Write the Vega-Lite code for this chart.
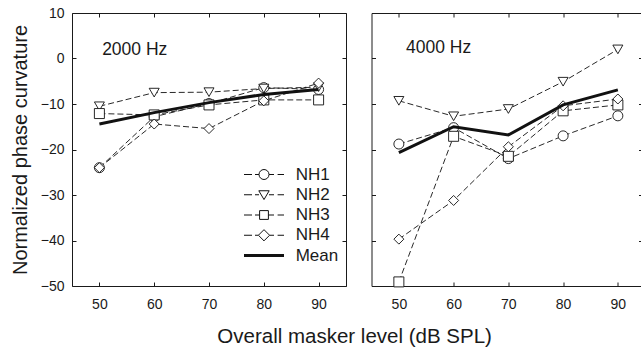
{
  "$schema": "https://vega.github.io/schema/vega-lite/v6.json",
  "background": "white",
  "padding": {"left": 9, "top": 5, "right": 0, "bottom": 0},
  "config": {
    "font": "Liberation Sans",
    "view": {"stroke": "#1a1a1a", "strokeWidth": 1},
    "axis": {
      "domain": false, "grid": false, "tickSize": -4, "tickColor": "#1a1a1a", "tickWidth": 1,
      "labelFont": "Liberation Sans", "labelFontSize": 14, "labelColor": "#1a1a1a",
      "titleFont": "Liberation Sans", "titleFontSize": 20, "titleFontWeight": "normal", "titleColor": "#1a1a1a"
    }
  },
  "datasets": {
    "pc": [
      {"freq": 2000, "series": "NH1", "level": 50, "value": -24.0},
      {"freq": 2000, "series": "NH1", "level": 60, "value": -12.8},
      {"freq": 2000, "series": "NH1", "level": 70, "value": -9.9},
      {"freq": 2000, "series": "NH1", "level": 80, "value": -6.4},
      {"freq": 2000, "series": "NH1", "level": 90, "value": -6.8},
      {"freq": 2000, "series": "NH2", "level": 50, "value": -10.5},
      {"freq": 2000, "series": "NH2", "level": 60, "value": -7.5},
      {"freq": 2000, "series": "NH2", "level": 70, "value": -7.4},
      {"freq": 2000, "series": "NH2", "level": 80, "value": -6.6},
      {"freq": 2000, "series": "NH2", "level": 90, "value": -6.3},
      {"freq": 2000, "series": "NH3", "level": 50, "value": -12.1},
      {"freq": 2000, "series": "NH3", "level": 60, "value": -12.4},
      {"freq": 2000, "series": "NH3", "level": 70, "value": -10.2},
      {"freq": 2000, "series": "NH3", "level": 80, "value": -9.1},
      {"freq": 2000, "series": "NH3", "level": 90, "value": -9.1},
      {"freq": 2000, "series": "NH4", "level": 50, "value": -24.0},
      {"freq": 2000, "series": "NH4", "level": 60, "value": -14.4},
      {"freq": 2000, "series": "NH4", "level": 70, "value": -15.4},
      {"freq": 2000, "series": "NH4", "level": 80, "value": -9.3},
      {"freq": 2000, "series": "NH4", "level": 90, "value": -5.4},
      {"freq": 2000, "series": "Mean", "level": 50, "value": -14.4},
      {"freq": 2000, "series": "Mean", "level": 60, "value": -11.9},
      {"freq": 2000, "series": "Mean", "level": 70, "value": -9.7},
      {"freq": 2000, "series": "Mean", "level": 80, "value": -7.9},
      {"freq": 2000, "series": "Mean", "level": 90, "value": -6.8},
      {"freq": 4000, "series": "NH1", "level": 50, "value": -18.8},
      {"freq": 4000, "series": "NH1", "level": 60, "value": -15.2},
      {"freq": 4000, "series": "NH1", "level": 70, "value": -22.0},
      {"freq": 4000, "series": "NH1", "level": 80, "value": -17.0},
      {"freq": 4000, "series": "NH1", "level": 90, "value": -12.6},
      {"freq": 4000, "series": "NH2", "level": 50, "value": -9.3},
      {"freq": 4000, "series": "NH2", "level": 60, "value": -12.7},
      {"freq": 4000, "series": "NH2", "level": 70, "value": -11.1},
      {"freq": 4000, "series": "NH2", "level": 80, "value": -5.1},
      {"freq": 4000, "series": "NH2", "level": 90, "value": 2.0},
      {"freq": 4000, "series": "NH3", "level": 50, "value": -49.1},
      {"freq": 4000, "series": "NH3", "level": 60, "value": -17.1},
      {"freq": 4000, "series": "NH3", "level": 70, "value": -21.5},
      {"freq": 4000, "series": "NH3", "level": 80, "value": -11.5},
      {"freq": 4000, "series": "NH3", "level": 90, "value": -10.2},
      {"freq": 4000, "series": "NH4", "level": 50, "value": -39.7},
      {"freq": 4000, "series": "NH4", "level": 60, "value": -31.2},
      {"freq": 4000, "series": "NH4", "level": 70, "value": -19.4},
      {"freq": 4000, "series": "NH4", "level": 80, "value": -10.4},
      {"freq": 4000, "series": "NH4", "level": 90, "value": -8.9},
      {"freq": 4000, "series": "Mean", "level": 50, "value": -20.7},
      {"freq": 4000, "series": "Mean", "level": 60, "value": -15.0},
      {"freq": 4000, "series": "Mean", "level": 70, "value": -16.8},
      {"freq": 4000, "series": "Mean", "level": 80, "value": -10.2},
      {"freq": 4000, "series": "Mean", "level": 90, "value": -6.9}
    ]
  },
  "title": {
    "text": "Overall masker level (dB SPL)", "orient": "bottom", "anchor": "middle",
    "fontSize": 20.5, "fontWeight": "normal", "font": "Liberation Sans", "color": "#1a1a1a", "offset": 15, "dx": 28
  },
  "spacing": 23.5,
  "resolve": {"scale": {"shape": "independent"}, "legend": {"shape": "independent"}},
  "hconcat": [
    {
      "width": 274, "height": 273,
      "data": {"name": "pc"},
      "resolve": {"axis": {"x": "independent", "y": "independent"}, "scale": {"shape": "independent"}, "legend": {"shape": "independent"}},
      "layer": [
        {
          "transform": [{"filter": "datum.freq == 2000 && datum.series != 'Mean'"}],
          "mark": {"type": "line", "stroke": "#111", "strokeWidth": 0.9, "strokeDash": [6, 3]},
          "encoding": {
            "x": {"field": "level", "type": "quantitative", "scale": {"domain": [45, 95], "nice": false},
                  "axis": {"orient": "bottom", "values": [50, 60, 70, 80, 90], "labelPadding": 15, "title": null}},
            "y": {"field": "value", "type": "quantitative", "scale": {"domain": [-50, 10], "nice": false},
                  "axis": {"orient": "left", "values": [-50, -40, -30, -20, -10, 0, 10], "labelPadding": 12,
                           "title": "Normalized phase curvature", "titlePadding": 10}},
            "detail": {"field": "series"}
          }
        },
        {
          "transform": [{"filter": "datum.freq == 2000 && datum.series != 'Mean'"}],
          "mark": {"type": "point", "filled": true, "fill": "white", "stroke": "#111", "strokeWidth": 0.9, "size": 100, "opacity": 1},
          "encoding": {
            "x": {"field": "level", "type": "quantitative", "scale": {"domain": [45, 95], "nice": false},
                  "axis": {"orient": "top", "values": [50, 60, 70, 80, 90], "labels": false, "title": null}},
            "y": {"field": "value", "type": "quantitative", "scale": {"domain": [-50, 10], "nice": false},
                  "axis": {"orient": "right", "values": [-50, -40, -30, -20, -10, 0, 10], "labels": false, "title": null}},
            "shape": {
              "field": "series", "type": "nominal",
              "scale": {"domain": ["NH1", "NH2", "NH3", "NH4"], "range": ["circle", "triangle-down", "square", "diamond"]},
              "legend": null
            }
          }
        },
        {
          "transform": [{"filter": "datum.freq == 2000 && datum.series == 'Mean'"}],
          "mark": {"type": "line", "stroke": "#111", "strokeWidth": 3},
          "encoding": {
            "x": {"field": "level", "type": "quantitative", "scale": {"domain": [45, 95], "nice": false}, "axis": null},
            "y": {"field": "value", "type": "quantitative", "scale": {"domain": [-50, 10], "nice": false}, "axis": null}
          }
        },
        {
          "transform": [{"filter": "false"}],
          "mark": {"type": "point", "filled": false, "color": "#111", "strokeWidth": 1, "opacity": 1},
          "encoding": {
            "x": {"field": "level", "type": "quantitative", "scale": {"domain": [45, 95], "nice": false}, "axis": null},
            "y": {"field": "value", "type": "quantitative", "scale": {"domain": [-50, 10], "nice": false}, "axis": null},
            "shape": {
              "field": "series", "type": "nominal",
              "scale": {
                "domain": ["NH1", "NH2", "NH3", "NH4", "Mean"],
                "range": [
                  "M-2,0L-1.2,0M-0.9,0L-0.5,0M0.5,0L1,0M1.36,0L2,0M-0.5,0A0.5,0.5 0 1,0 0.5,0A0.5,0.5 0 1,0 -0.5,0Z",
                  "M-2,0L-1.2,0M-0.9,0L-0.5,0M0.5,0L1,0M1.36,0L2,0M-0.52,-0.4L0.52,-0.4L0,0.48Z",
                  "M-2,0L-1.2,0M-0.9,0L-0.44,0M0.44,0L1,0M1.36,0L2,0M-0.44,-0.44L0.44,-0.44L0.44,0.44L-0.44,0.44Z",
                  "M-2,0L-1.2,0M-0.9,0L-0.56,0M0.56,0L1,0M1.36,0L2,0M0,-0.56L0.56,0L0,0.56L-0.56,0Z",
                  "M-2,-0.1L2,-0.1M-2,0L2,0M-2,0.1L2,0.1"
                ]
              },
              "legend": {
                "title": null, "orient": "none", "legendX": 181.5, "legendY": 151, "padding": 0,
                "symbolSize": 400, "symbolStrokeWidth": 1, "symbolStrokeColor": "#111", "symbolOpacity": 1,
                "rowPadding": 1.25, "labelOffset": 21.2, "labelFontSize": 17, "labelColor": "#1a1a1a", "labelFont": "Liberation Sans"
              }
            }
          }
        },
        {
          "data": {"values": [{"label": "2000 Hz"}]},
          "mark": {"type": "text", "align": "left", "baseline": "alphabetic", "fontSize": 17.5, "font": "Liberation Sans", "color": "#1a1a1a"},
          "encoding": {
            "x": {"datum": 50.5, "type": "quantitative", "axis": null},
            "y": {"datum": 0.7, "type": "quantitative", "axis": null},
            "text": {"field": "label"}
          }
        }
      ]
    },
    {
      "width": 271, "height": 273,
      "data": {"name": "pc"},
      "resolve": {"axis": {"x": "independent", "y": "independent"}},
      "layer": [
        {
          "transform": [{"filter": "datum.freq == 4000 && datum.series != 'Mean'"}],
          "mark": {"type": "line", "stroke": "#111", "strokeWidth": 0.9, "strokeDash": [6, 3]},
          "encoding": {
            "x": {"field": "level", "type": "quantitative", "scale": {"domain": [45, 94.5], "nice": false},
                  "axis": {"orient": "bottom", "values": [50, 60, 70, 80, 90], "labelPadding": 15, "title": null}},
            "y": {"field": "value", "type": "quantitative", "scale": {"domain": [-50, 10], "nice": false},
                  "axis": {"orient": "left", "values": [-50, -40, -30, -20, -10, 0, 10], "labels": false, "title": null}},
            "detail": {"field": "series"}
          }
        },
        {
          "transform": [{"filter": "datum.freq == 4000 && datum.series != 'Mean'"}],
          "mark": {"type": "point", "filled": true, "fill": "white", "stroke": "#111", "strokeWidth": 0.9, "size": 100, "opacity": 1},
          "encoding": {
            "x": {"field": "level", "type": "quantitative", "scale": {"domain": [45, 94.5], "nice": false},
                  "axis": {"orient": "top", "values": [50, 60, 70, 80, 90], "labels": false, "title": null}},
            "y": {"field": "value", "type": "quantitative", "scale": {"domain": [-50, 10], "nice": false},
                  "axis": {"orient": "right", "values": [-50, -40, -30, -20, -10, 0, 10], "labels": false, "title": null}},
            "shape": {
              "field": "series", "type": "nominal",
              "scale": {"domain": ["NH1", "NH2", "NH3", "NH4"], "range": ["circle", "triangle-down", "square", "diamond"]},
              "legend": null
            }
          }
        },
        {
          "transform": [{"filter": "datum.freq == 4000 && datum.series == 'Mean'"}],
          "mark": {"type": "line", "stroke": "#111", "strokeWidth": 3},
          "encoding": {
            "x": {"field": "level", "type": "quantitative", "scale": {"domain": [45, 94.5], "nice": false}, "axis": null},
            "y": {"field": "value", "type": "quantitative", "scale": {"domain": [-50, 10], "nice": false}, "axis": null}
          }
        },
        {
          "data": {"values": [{"label": "4000 Hz"}]},
          "mark": {"type": "text", "align": "left", "baseline": "alphabetic", "fontSize": 17.5, "font": "Liberation Sans", "color": "#1a1a1a"},
          "encoding": {
            "x": {"datum": 51.3, "type": "quantitative", "axis": null},
            "y": {"datum": 1.3, "type": "quantitative", "axis": null},
            "text": {"field": "label"}
          }
        }
      ]
    }
  ]
}
